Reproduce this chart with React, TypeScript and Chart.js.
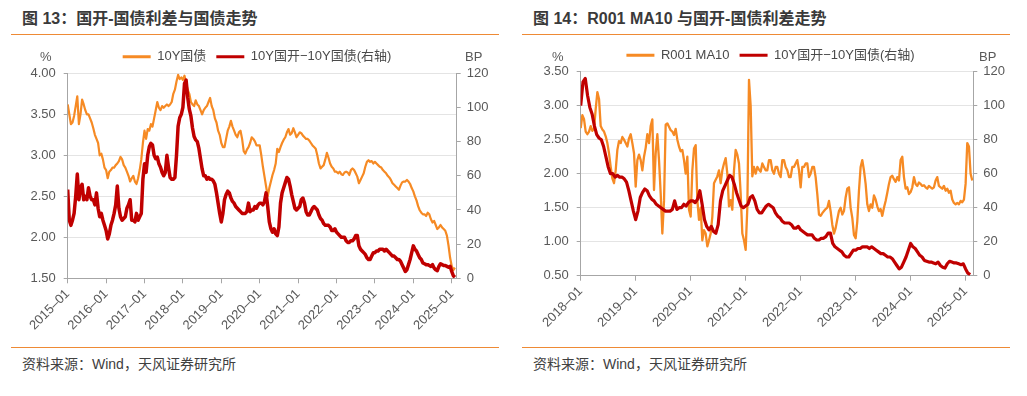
import React, { useEffect, useRef } from "react";
import { Chart, registerables } from "chart.js";

Chart.register(...registerables);

const FONT = '"Liberation Sans", "Noto Sans CJK SC", Arial, sans-serif';
const ORANGE = "#F68A24";
const RED = "#C00000";
const RULE = "#EE8A35";
const AXIS = "#A6A6A6";
const GRID = "#E4E4E4";
const TICK = "#595959";

// ---------- titles / labels ----------
const title1 = "图 13：国开-国债利差与国债走势";
const title2 = "图 14：R001 MA10 与国开-国债利差走势";
const source = "资料来源：Wind，天风证券研究所";
const label10Y = "10Y国债";
const labelR001 = "R001 MA10";
const labelSpread = "10Y国开−10Y国债(右轴)";

// ---------- x-axis ticks ----------
const xTicks1 = [2015, 2016, 2017, 2018, 2019, 2020, 2021, 2022, 2023, 2024, 2025];
const xLabels1 = ["2015–01", "2016–01", "2017–01", "2018–01", "2019–01", "2020–01", "2021–01", "2022–01", "2023–01", "2024–01", "2025–01"];
const xTicks2 = [2018, 2019, 2020, 2021, 2022, 2023, 2024, 2025];
const xLabels2 = ["2018–01", "2019–01", "2020–01", "2021–01", "2022–01", "2023–01", "2024–01", "2025–01"];

// ---------- 10Y国开-10Y国债 spread (BP), twice a month ----------
const spread2015 = [52, 34, 31, 34, 38, 48, 61, 46, 53, 55, 46, 48, 46, 53, 48, 46, 46, 43, 50, 41, 36, 38, 34, 31];
const spread2016 = [28, 23, 26, 31, 34, 38, 43, 54, 41, 36, 34, 35, 36, 41, 43, 46, 34, 34, 33, 38, 34, 36, 38, 58];
const spread2017 = [67, 62, 72, 77, 79, 78, 72, 70, 71, 67, 65, 62, 60, 62, 72, 65, 59, 58, 58, 59, 72, 89, 94, 96];
const spread2018 = [100, 114, 116, 106, 99, 95, 88, 83, 81, 80, 76, 70, 64, 60, 60, 58, 59, 58, 58, 57, 55, 50, 44, 38];
const spread2019 = [33, 38, 46, 49, 51, 50, 47, 45, 44, 42, 41, 40, 39, 38, 38, 38, 39, 44, 39, 40, 40, 42, 41, 43];
const spread2020 = [44, 44, 43, 45, 50, 42, 33, 29, 27, 29, 26, 25, 30, 44, 50, 53, 56, 59, 58, 54, 49, 45, 41, 40];
const spread2021 = [41, 42, 46, 47, 44, 39, 37, 37, 39, 41, 42, 41, 40, 37, 35, 34, 32, 31, 31, 31, 30, 28, 28, 29];
const spread2022 = [27, 26, 25, 24, 24, 24, 22, 21, 21, 22, 22, 23, 25, 25, 19, 17, 16, 15, 14, 12, 11, 11, 13, 15];
const spread2023 = [15, 16, 16, 17, 17, 17, 16, 17, 16, 15, 14, 13, 13, 12, 11, 11, 10, 8, 6, 4, 5, 8, 11, 15];
const spread2024 = [19, 17, 16, 14, 12, 11, 9, 8.5, 8, 8, 7.5, 7, 8, 6, 5, 4.5, 7, 8.5, 8, 7.5, 7.5, 7, 6.5, 7];
const spread2025 = [4, 1.5, 0.6];

// ---------- 10Y国债 yield (%), twice a month ----------
const cgb2015 = [3.62, 3.5, 3.38, 3.4, 3.48, 3.6, 3.72, 3.38, 3.5, 3.68, 3.62, 3.55, 3.5, 3.5, 3.45, 3.4, 3.33, 3.25, 3.2, 3.15, 3.0, 3.02, 2.95, 2.85];
const cgb2016 = [2.82, 2.72, 2.8, 2.82, 2.85, 2.85, 2.88, 2.9, 2.93, 2.98, 2.95, 2.88, 2.85, 2.8, 2.75, 2.68, 2.72, 2.75, 2.68, 2.65, 2.72, 2.82, 2.95, 3.15];
const cgb2017 = [3.3, 3.2, 3.32, 3.3, 3.38, 3.35, 3.45, 3.55, 3.65, 3.58, 3.55, 3.6, 3.58, 3.6, 3.62, 3.6, 3.62, 3.65, 3.75, 3.8, 3.9, 3.98, 3.93, 3.95];
const cgb2018 = [3.92, 3.97, 3.88, 3.8, 3.75, 3.65, 3.62, 3.6, 3.67, 3.62, 3.6, 3.55, 3.5, 3.55, 3.58, 3.6, 3.65, 3.7, 3.6, 3.55, 3.45, 3.4, 3.3, 3.25];
const cgb2019 = [3.15, 3.1, 3.1, 3.2, 3.3, 3.35, 3.42, 3.35, 3.3, 3.25, 3.22, 3.28, 3.3, 3.2, 3.05, 3.02, 3.07, 3.1, 3.15, 3.22, 3.2, 3.17, 3.12, 3.12];
const cgb2020 = [3.12, 3.0, 2.86, 2.74, 2.62, 2.5, 2.6, 2.68, 2.76, 2.82, 2.9, 3.08, 3.04, 3.1, 3.15, 3.19, 3.22, 3.28, 3.32, 3.25, 3.27, 3.33, 3.28, 3.22];
const cgb2021 = [3.25, 3.28, 3.27, 3.24, 3.22, 3.2, 3.2, 3.18, 3.15, 3.12, 3.1, 3.08, 3.0, 2.9, 2.84, 2.86, 2.88, 2.95, 3.03, 2.97, 2.9, 2.86, 2.84, 2.8];
const cgb2022 = [2.8, 2.78, 2.8, 2.77, 2.76, 2.79, 2.8, 2.79, 2.76, 2.82, 2.84, 2.82, 2.78, 2.74, 2.66, 2.7, 2.74, 2.78, 2.86, 2.92, 2.94, 2.92, 2.93, 2.9];
const cgb2023 = [2.92, 2.9, 2.88, 2.86, 2.85, 2.82, 2.8, 2.78, 2.75, 2.73, 2.7, 2.66, 2.64, 2.62, 2.6, 2.58, 2.63, 2.67, 2.68, 2.68, 2.7, 2.68, 2.65, 2.6];
const cgb2024 = [2.56, 2.5, 2.45, 2.38, 2.33, 2.3, 2.28, 2.28, 2.26, 2.3, 2.28, 2.22, 2.18, 2.2, 2.15, 2.1, 2.12, 2.15, 2.12, 2.1, 2.08, 2.02, 1.9, 1.75];
const cgb2025 = [1.65, 1.6, 1.63];

// ---------- R001 MA10 (%), 33 readings a year ----------
const r001_2018 = [2.67, 2.86, 2.8, 2.62, 2.58, 2.62, 2.7, 2.63, 2.66, 2.95, 3.2, 3.1, 2.7, 2.65, 2.62, 2.55, 2.45, 2.3, 2.1, 1.93, 1.86, 2.05, 2.35, 2.48, 2.45, 2.54, 2.5, 2.45, 2.4, 2.52, 2.58, 2.45, 2.3];
const r001_2019 = [1.81, 2.2, 2.28, 2.2, 2.05, 2.25, 2.38, 2.58, 2.45, 2.7, 2.8, 1.76, 2.3, 2.58, 2.2, 1.71, 1.12, 1.6, 2.72, 2.74, 2.69, 2.64, 2.62, 2.57, 2.66, 2.5, 2.4, 2.33, 2.35, 2.2, 2.0, 2.25, 1.47];
const r001_2020 = [1.37, 2.05, 2.37, 2.42, 1.61, 1.32, 1.5, 1.02, 1.17, 1.12, 0.93, 1.02, 1.12, 1.37, 1.86, 1.91, 1.96, 2.05, 1.86, 2.05, 2.15, 2.23, 2.0, 1.52, 1.61, 1.47, 2.05, 2.35, 2.28, 2.15, 1.71, 1.12, 1.02];
const r001_2021 = [0.88, 1.5, 3.38, 3.0, 1.96, 2.1, 2.0, 2.1, 2.06, 2.03, 2.15, 2.1, 2.05, 2.05, 2.2, 2.2, 2.05, 2.0, 2.1, 2.1, 2.0, 1.95, 2.2, 2.2, 2.1, 2.05, 1.95, 1.95, 2.1, 2.1, 2.15, 2.2, 2.05];
const r001_2022 = [1.8, 2.1, 2.1, 2.15, 2.15, 1.95, 2.0, 2.1, 2.1, 1.95, 1.7, 1.4, 1.38, 1.42, 1.45, 1.48, 1.5, 1.6, 1.45, 1.25, 1.12, 1.2, 1.33, 1.45, 1.5, 1.4, 1.45, 1.65, 1.78, 1.8, 1.5, 1.35, 1.1];
const r001_2023 = [1.05, 1.3, 1.75, 2.1, 2.2, 2.05, 1.85, 1.55, 1.45, 1.55, 1.5, 1.68, 1.62, 1.52, 1.45, 1.48, 1.38, 1.5, 1.6, 1.72, 1.85, 1.95, 1.97, 1.92, 1.88, 1.95, 1.9, 2.2, 2.25, 1.95, 1.78, 1.8, 1.7];
const r001_2024 = [1.73, 1.8, 1.95, 1.85, 1.82, 1.87, 1.85, 1.82, 1.83, 1.8, 1.78, 1.82, 1.8, 1.78, 1.8, 1.9, 1.95, 1.82, 1.8, 1.78, 1.82, 1.75, 1.78, 1.72, 1.75, 1.62, 1.57, 1.55, 1.57, 1.55, 1.6, 1.58, 1.62];
const r001_2025 = [1.85, 2.45, 2.4, 2.0, 1.9];

type Pt = { x: number; y: number };
function toSeries(startYear: number, perYear: number, years: number[][]): Pt[] {
  const out: Pt[] = [];
  years.forEach((arr, yi) => arr.forEach((v, k) => out.push({ x: startYear + yi + k / perYear, y: v })));
  return out;
}

type PanelOpts = {
  orangeLabel: string;
  orangeData: Pt[];
  orangeWidth: number;
  redData: Pt[];
  redWidth: number;
  xMin: number;
  xMax: number;
  xTicks: number[];
  xLabels: string[];
  yMin: number;
  yMax: number;
  leftW: number;
  rightW: number;
  topPad: number;
  xH: number;
};

function makeConfig(p: PanelOpts): any {
  const tickFont = { family: FONT, size: 13 };
  return {
    type: "line",
    data: {
      datasets: [
        {
          label: p.orangeLabel,
          data: p.orangeData,
          borderColor: ORANGE,
          backgroundColor: ORANGE,
          borderWidth: p.orangeWidth,
          pointRadius: 0,
          tension: 0,
          borderJoinStyle: "round",
          yAxisID: "y",
          order: 2,
        },
        {
          label: labelSpread,
          data: p.redData,
          borderColor: RED,
          backgroundColor: RED,
          borderWidth: p.redWidth,
          pointRadius: 0,
          tension: 0,
          borderJoinStyle: "round",
          yAxisID: "y1",
          order: 1,
        },
      ],
    },
    options: {
      responsive: false,
      animation: false,
      events: [],
      layout: { padding: { top: p.topPad, left: 0, right: 0, bottom: 0 } },
      plugins: {
        tooltip: { enabled: false },
        legend: {
          display: true,
          position: "top",
          labels: {
            boxWidth: 28,
            boxHeight: 3,
            padding: 10,
            color: "#4a4a4a",
            font: { family: FONT, size: 13 },
            sort: (a: any, b: any) => a.datasetIndex - b.datasetIndex,
            generateLabels: (chart: any) =>
              Chart.defaults.plugins.legend.labels
                .generateLabels(chart)
                .map((l: any) => ({ ...l, lineWidth: 0 })),
          },
        },
      },
      scales: {
        x: {
          type: "linear",
          min: p.xMin,
          max: p.xMax,
          afterBuildTicks: (s: any) => {
            s.ticks = p.xTicks.map((v) => ({ value: v }));
          },
          afterFit: (s: any) => {
            s.height = p.xH;
          },
          ticks: {
            autoSkip: false,
            minRotation: 45,
            maxRotation: 45,
            padding: 3,
            color: TICK,
            font: tickFont,
            callback: (v: any) => {
              const i = p.xTicks.indexOf(Number(v));
              return i >= 0 ? p.xLabels[i] : "";
            },
          },
          grid: { drawOnChartArea: false, drawTicks: true, tickLength: 5, color: AXIS },
          border: { display: true, color: AXIS, width: 1 },
        },
        y: {
          type: "linear",
          position: "left",
          min: p.yMin,
          max: p.yMax,
          afterFit: (s: any) => {
            s.width = p.leftW;
          },
          ticks: {
            stepSize: 0.5,
            padding: 8,
            color: TICK,
            font: tickFont,
            callback: (v: any) => Number(v).toFixed(2),
          },
          grid: { color: GRID, tickColor: AXIS, tickLength: 4, drawTicks: true },
          border: { display: true, color: AXIS, width: 1 },
        },
        y1: {
          type: "linear",
          position: "right",
          min: 0,
          max: 120,
          afterFit: (s: any) => {
            s.width = p.rightW;
          },
          ticks: { stepSize: 20, padding: 6, color: TICK, font: tickFont },
          grid: { drawOnChartArea: false, color: AXIS, tickColor: AXIS, tickLength: 4, drawTicks: true },
          border: { display: true, color: AXIS, width: 1 },
        },
      },
    },
  };
}

function ChartCanvas({ left, width, opts }: { left: number; width: number; opts: PanelOpts }) {
  const ref = useRef<HTMLCanvasElement | null>(null);
  useEffect(() => {
    if (!ref.current) return;
    const chart = new Chart(ref.current, makeConfig(opts));
    return () => chart.destroy();
  }, []);
  return (
    <canvas
      ref={ref}
      width={width}
      height={340}
      style={{ position: "absolute", left, top: 0, width, height: 340 }}
    />
  );
}

const textBase: React.CSSProperties = {
  position: "absolute",
  fontFamily: FONT,
  whiteSpace: "nowrap",
};

export default function App() {
  const cgb = toSeries(2015, 24, [cgb2015, cgb2016, cgb2017, cgb2018, cgb2019, cgb2020, cgb2021, cgb2022, cgb2023, cgb2024, cgb2025]);
  const spreadAll = toSeries(2015, 24, [spread2015, spread2016, spread2017, spread2018, spread2019, spread2020, spread2021, spread2022, spread2023, spread2024, spread2025]);
  const spreadFrom2018 = toSeries(2018, 24, [spread2018, spread2019, spread2020, spread2021, spread2022, spread2023, spread2024, spread2025]);
  const r001 = toSeries(2018, 33, [r001_2018, r001_2019, r001_2020, r001_2021, r001_2022, r001_2023, r001_2024, r001_2025]);

  const opts1: PanelOpts = {
    orangeLabel: label10Y,
    orangeData: cgb,
    orangeWidth: 2.2,
    redData: spreadAll,
    redWidth: 3.5,
    xMin: 2015,
    xMax: 2025.13,
    xTicks: xTicks1,
    xLabels: xLabels1,
    yMin: 1.5,
    yMax: 4.0,
    leftW: 67.7,
    rightW: 57.3,
    topPad: 40.3,
    xH: 61.7,
  };
  const opts2: PanelOpts = {
    orangeLabel: labelR001,
    orangeData: r001,
    orangeWidth: 2.3,
    redData: spreadFrom2018,
    redWidth: 3.2,
    xMin: 2018,
    xMax: 2025.14,
    xTicks: xTicks2,
    xLabels: xLabels2,
    yMin: 0.5,
    yMax: 3.5,
    leftW: 66.7,
    rightW: 53.7,
    topPad: 38.7,
    xH: 64.3,
  };

  const panel = (dx: number, title: string) => (
    <>
      <div style={{ ...textBase, left: dx + 22, top: 9, fontSize: 16, lineHeight: "20px", fontWeight: "bold", color: "#3a3a3a" }}>{title}</div>
      <div style={{ position: "absolute", left: dx + 11, top: 33.5, width: 488, height: 1.5, background: RULE }} />
      <div style={{ position: "absolute", left: dx + 11, top: 346.5, width: 488, height: 1.5, background: RULE }} />
      <div style={{ ...textBase, left: dx + 22, top: 354, fontSize: 14, lineHeight: "20px", color: "#404040" }}>{source}</div>
    </>
  );

  return (
    <div style={{ position: "absolute", left: 0, top: 0, width: 1027, height: 396, background: "#ffffff", overflow: "hidden" }}>
      {panel(0, title1)}
      {panel(511, title2)}
      <ChartCanvas left={0} width={514} opts={opts1} />
      <ChartCanvas left={514} width={513} opts={opts2} />
      <div style={{ ...textBase, left: 40, top: 49, fontSize: 13, lineHeight: "16px", color: TICK }}>%</div>
      <div style={{ ...textBase, left: 465, top: 49, fontSize: 13, lineHeight: "16px", color: TICK }}>BP</div>
      <div style={{ ...textBase, left: 552, top: 49, fontSize: 13, lineHeight: "16px", color: TICK }}>%</div>
      <div style={{ ...textBase, left: 979, top: 49, fontSize: 13, lineHeight: "16px", color: TICK }}>BP</div>
    </div>
  );
}
